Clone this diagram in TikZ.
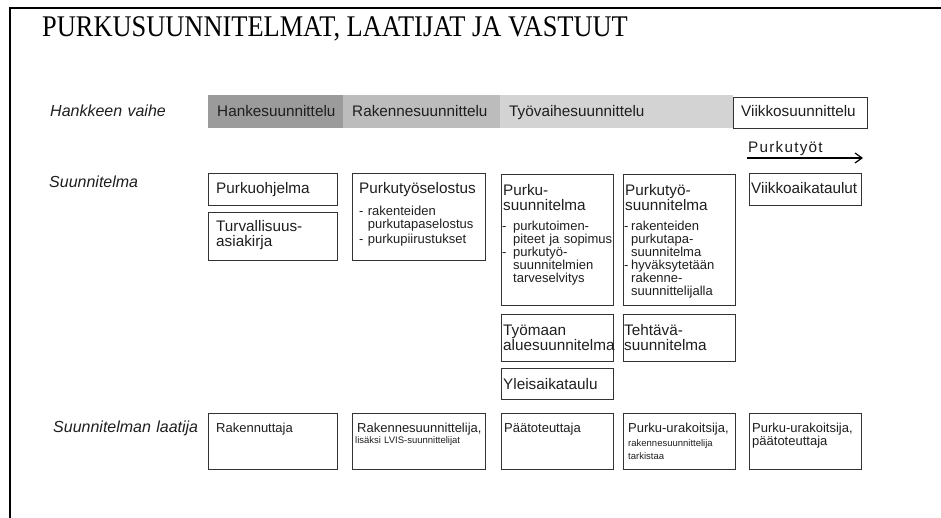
\documentclass[tikz,border=0pt]{standalone}
\usepackage{fontspec}
\usepackage{graphicx}
\setmainfont{Liberation Sans}
\newfontfamily\titlefont{Liberation Serif}
\newfontfamily\spacedfont[LetterSpace=8]{Liberation Sans}
\usetikzlibrary{arrows.meta}
\definecolor{bardark}{HTML}{9B9B9B}
\definecolor{barmid}{HTML}{BCBCBC}
\definecolor{barlight}{HTML}{D3D3D3}
\definecolor{boxline}{HTML}{333333}
\definecolor{ink}{HTML}{1E1E1E}
\newcommand\itemdash[1]{\makebox[#1][l]{-}}
\tikzset{
  frameline/.style={line width=2pt, black},
  bar/.style={inner sep=0, anchor=north west, draw=none},
  planbox/.style={draw=boxline, line width=1.1pt, inner sep=0, anchor=north west},
  txt/.style={inner sep=0, anchor=base west, text=ink, text width=160pt, align=left},
  big/.style={txt, font=\fontsize{15.3}{15}\selectfont},
  sub/.style={txt, font=\fontsize{13}{13}\selectfont},
  tiny/.style={txt, font=\fontsize{9.5}{13.5}\selectfont},
  rowlabel/.style={txt, font=\fontsize{16}{16}\selectfont\itshape},
}
\begin{document}
\begin{tikzpicture}[x=1pt,y=-1pt]
\useasboundingbox (0,0) rectangle (941,518);
% frame
\draw[frameline] (10,518) -- (10,8) -- (941,8);
% title
\node[inner sep=0, anchor=base west, font=\titlefont\fontsize{30}{30}\selectfont, text=black] (title) at (42,37) {\scalebox{0.88}[1]{PURKUSUUNNITELMAT, LAATIJAT JA VASTUUT}};

% phase bar
\node[bar, fill=bardark, minimum width=135pt, minimum height=33pt] (hk) at (208,95) {};
\node[bar, fill=barmid, minimum width=157pt, minimum height=33pt] (rk) at (343,95) {};
\node[bar, fill=barlight, minimum width=233pt, minimum height=33pt] (tv) at (500,95) {};
\node[planbox, minimum width=134pt, minimum height=31pt] (vk) at (733,97) {};
\node[rowlabel] (lab1) at (50,117) {Hankkeen vaihe};
\node[big] (hkt) at (217,117) {Hankesuunnittelu};
\node[big] (rkt) at (352,117) {Rakennesuunnittelu};
\node[big] (tvt) at (509,117) {Työvaihesuunnittelu};
\node[big] (vkt) at (741,117) {Viikkosuunnittelu};

% Purkutyot arrow
\node[txt, font=\spacedfont\fontsize{15.3}{15}\selectfont] (pt) at (748,153) {Purkutyöt};
\coordinate (arrS) at (747,158);
\coordinate (arrE) at (863,158);
\draw[line width=1.2pt, -{Straight Barb[length=7pt,width=10pt]}] (arrS) -- (arrE);

% row labels
\node[rowlabel] (lab2) at (49,188) {Suunnitelma};
\node[rowlabel] (lab3) at (53,432) {Suunnitelman laatija};

% plan boxes
\node[planbox, minimum width=129pt, minimum height=32pt] (b1) at (208,173) {};
\node[big] (b1t) at (216,194) {Purkuohjelma};
\node[planbox, minimum width=129pt, minimum height=48pt] (b2) at (208,212) {};
\node[big] (b2t) at (216,232) {Turvallisuus-\\asiakirja};
\node[planbox, minimum width=133pt, minimum height=87pt] (b3) at (352,173) {};
\node[big] (b3t) at (359,194) {Purkutyöselostus};
\node[sub] (b3s) at (359,216) {- rakenteiden\\\hphantom{- }purkutapaselostus\\[2pt]- purkupiirustukset};

\node[planbox, minimum width=112pt, minimum height=131pt] (b4) at (501,174) {};
\node[big] (b4t) at (503,196) {Purku-\\suunnitelma};
\node[sub] (b4s) at (502,231) {\itemdash{11pt}purkutoimen-\\\hspace*{11pt}piteet ja sopimus\\\itemdash{11pt}purkutyö-\\\hspace*{11pt}suunnitelmien\\\hspace*{11pt}tarveselvitys};

\node[planbox, minimum width=112pt, minimum height=131pt] (b5) at (623,174) {};
\node[big] (b5t) at (625,196) {Purkutyö-\\suunnitelma};
\node[sub] (b5s) at (624,231) {\itemdash{7pt}rakenteiden\\\hspace*{7pt}purkutapa-\\\hspace*{7pt}suunnitelma\\\itemdash{7pt}hyväksytetään\\\hspace*{7pt}rakenne-\\\hspace*{7pt}suunnittelijalla};

\node[planbox, minimum width=112pt, minimum height=32pt] (b6) at (749,173) {};
\node[big] (b6t) at (751,194) {Viikkoaikataulut};

\node[planbox, minimum width=112pt, minimum height=47pt] (b7) at (501,314) {};
\node[big] (b7t) at (503,335) {Työmaan\\aluesuunnitelma};
\node[planbox, minimum width=112pt, minimum height=47pt] (b8) at (623,314) {};
\node[big] (b8t) at (624,335) {Tehtävä-\\suunnitelma};
\node[planbox, minimum width=112pt, minimum height=31pt] (b9) at (501,368) {};
\node[big] (b9t) at (503,389) {Yleisaikataulu};

% author boxes
\node[planbox, minimum width=129pt, minimum height=56pt] (a1) at (208,413) {};
\node[sub] (a1t) at (216,432) {Rakennuttaja};
\node[planbox, minimum width=133pt, minimum height=56pt] (a2) at (352,413) {};
\node[sub] (a2t) at (357,432) {Rakennesuunnittelija,};
\node[tiny] (a2s) at (355,443) {lisäksi LVIS-suunnittelijat};
\node[planbox, minimum width=112pt, minimum height=56pt] (a3) at (501,413) {};
\node[sub] (a3t) at (504,432) {Päätoteuttaja};
\node[planbox, minimum width=112pt, minimum height=56pt] (a4) at (623,413) {};
\node[sub] (a4t) at (628,432) {Purku-urakoitsija,};
\node[tiny] (a4s) at (628,446) {rakennesuunnittelija\\tarkistaa};
\node[planbox, minimum width=112pt, minimum height=56pt] (a5) at (749,413) {};
\node[sub] (a5t) at (752,432) {Purku-urakoitsija,\\päätoteuttaja};
\end{tikzpicture}
\end{document}
